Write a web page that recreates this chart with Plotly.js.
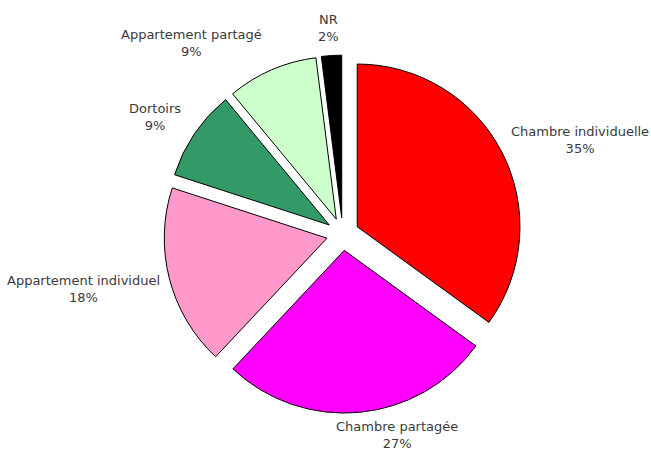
<!DOCTYPE html>
<html>
<head>
<meta charset="utf-8">
<script src="https://cdn.plot.ly/plotly-3.0.1.min.js"></script>
<style>
  html, body { margin: 0; padding: 0; background: #ffffff; }
  #pie-plot { width: 651px; height: 452px; }
</style>
</head>
<body>
<div id="pie-plot"></div>
<script>
// types de logement, dans l'ordre des aiguilles d'une montre
var labels = ["Chambre individuelle", "Chambre partagée", "Appartement individuel", "Dortoirs", "Appartement partagé", "NR"];
var shares = [35, 27, 18, 9, 9, 2];
var sliceColors = ["#ff0000", "#ff00ff", "#ff99cc", "#339966", "#ccffcc", "#000000"];

// label centres in pixels (Excel-style placement)
var labelX = [580, 397, 83, 155, 191, 328];
var labelY = [140, 435, 289, 117, 43, 28];

var total = shares.reduce((a, b) => a + b, 0);

var trace1 = {
  type: "pie",
  labels: labels,
  values: shares,
  sort: false,
  direction: "clockwise",
  rotation: 0,
  pull: labels.map(function () { return 0.1; }),
  marker: {colors: sliceColors, line: {color: "#000000", width: 1}},
  textinfo: "none",
  hoverinfo: "none",
  automargin: false,
  domain: {x: [0.250, 0.803], y: [0.086, 0.878]}
};

var annotations = labels.map(function (lab, i) {
  return {
    xref: "paper", yref: "paper",
    x: labelX[i] / 651, y: 1 - labelY[i] / 452,
    xanchor: "center", yanchor: "middle",
    showarrow: false,
    text: lab + "<br>" + Math.round(shares[i] / total * 100) + "%",
    font: {family: "DejaVu Sans", size: 13, color: "#3a3a3a"}
  };
});

var data = [trace1];
var layout = {
  width: 651,
  height: 452,
  margin: {l: 0, r: 0, t: 0, b: 0},
  paper_bgcolor: "#ffffff",
  showlegend: false,
  annotations: annotations
};

Plotly.newPlot("pie-plot", data, layout, {staticPlot: true});
</script>
</body>
</html>
